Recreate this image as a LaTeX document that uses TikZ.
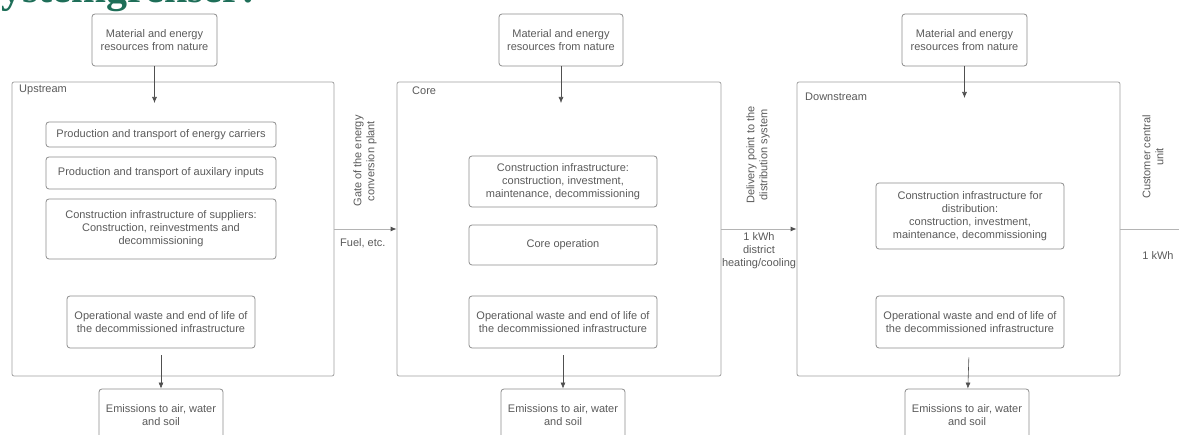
\documentclass[tikz,border=0pt]{standalone}
\usepackage{fontspec}
\setmainfont{Liberation Sans}
\newfontfamily\titlefont{Liberation Serif}
\usetikzlibrary{arrows.meta}
\definecolor{txtgray}{HTML}{5A5A5A}
\definecolor{boxgray}{HTML}{8C8C8C}
\definecolor{framegray}{HTML}{A0A0A0}
\definecolor{arrowgray}{HTML}{505050}
\definecolor{linegray}{HTML}{B4B4B4}
\definecolor{titlegreen}{HTML}{1E6E58}

\begin{document}
\begin{tikzpicture}[x=1pt, y=-1pt,
        frame/.style={rectangle, draw=framegray, line width=0.8pt, rounded corners=2pt, inner sep=0pt, minimum height=294pt},
        box/.style={rectangle, draw=boxgray, line width=0.8pt, rounded corners=3pt, align=center, text=txtgray, inner sep=0pt, font=\fontsize{11}{13}\selectfont},
        framelabel/.style={anchor=west, text=txtgray, inner sep=0pt, font=\fontsize{11}{13}\selectfont},
        gatelabel/.style={rotate=90, align=center, text=txtgray, inner sep=0pt, font=\fontsize{11}{13}\selectfont},
        flowlabel/.style={align=center, text=txtgray, inner sep=0pt, font=\fontsize{11}{13}\selectfont},
        flow/.style={draw=arrowgray, line width=0.6pt, -{Latex[length=6pt,width=5pt]}},
        gateline/.style={draw=linegray, line width=0.8pt, -{Latex[length=6pt,width=5pt,color=arrowgray]}}
    ]
        \useasboundingbox (0,0) rectangle (1179,435);

        % Title, cut by the page edge
        \node[anchor=base west, inner sep=0pt, text=titlegreen, font=\titlefont\bfseries\fontsize{42}{42}\selectfont] (title) at (-22,3) {Systemgrenser:};

        % Frames
        \node[frame, minimum width=322pt] (up) at (173,229) {};
        \node[frame, minimum width=324pt] (core) at (559,229) {};
        \node[frame, minimum width=323pt] (down) at (958.5,229) {};
        \node[framelabel] (uplabel) at (19,90) {Upstream};
        \node[framelabel] (corelabel) at (412,91) {Core};
        \node[framelabel] (downlabel) at (805,97) {Downstream};

        % Upstream
        \node[box, minimum width=125pt, minimum height=52pt] (res1) at (154.5,40) {Material and energy\\resources from nature};
        \node[box, minimum width=230pt, minimum height=25pt] (prod1) at (161,134.5) {Production and transport of energy carriers};
        \node[box, minimum width=230pt, minimum height=32pt] (prod2) at (161,173) {Production and transport of auxilary inputs};
        \node[box, minimum width=230pt, minimum height=60pt] (constr1) at (161,229) {Construction infrastructure of suppliers:\\Construction, reinvestments and\\decommissioning};
        \node[box, minimum width=188pt, minimum height=52pt] (waste1) at (161,322) {Operational waste and end of life of\\the decommissioned infrastructure};
        \node[box, minimum width=124pt, minimum height=52pt] (emis1) at (161,415) {Emissions to air, water\\and soil};
        \coordinate (in1) at (154.5,103);

        % Core
        \node[box, minimum width=124pt, minimum height=52pt] (res2) at (561,40) {Material and energy\\resources from nature};
        \node[box, minimum width=188pt, minimum height=51pt] (constr2) at (563,181.5) {Construction infrastructure:\\construction, investment,\\maintenance, decommissioning};
        \node[box, minimum width=188pt, minimum height=40pt] (coreop) at (563,245) {Core operation};
        \node[box, minimum width=188pt, minimum height=52pt] (waste2) at (563,322) {Operational waste and end of life of\\the decommissioned infrastructure};
        \node[box, minimum width=124pt, minimum height=52pt] (emis2) at (563,415) {Emissions to air, water\\and soil};
        \coordinate (in2) at (561,103);

        % Downstream
        \node[box, minimum width=125pt, minimum height=52pt] (res3) at (964.5,40) {Material and energy\\resources from nature};
        \node[box, minimum width=188pt, minimum height=66pt] (constr3) at (970,216) {Construction infrastructure for\\distribution:\\construction, investment,\\maintenance, decommissioning};
        \node[box, minimum width=188pt, minimum height=52pt] (waste3) at (970,322) {Operational waste and end of life of\\the decommissioned infrastructure};
        \node[box, minimum width=124pt, minimum height=52pt] (emis3) at (967,415) {Emissions to air, water\\and soil};
        \coordinate (in3) at (964.5,98);

        % Inputs from nature and emissions
        \draw[flow] (res1) -- (in1);
        \draw[flow] (res2) -- (in2);
        \draw[flow] (res3) -- (in3);
        \draw[flow, shorten <=7pt] (waste1) -- (emis1);
        \draw[flow, shorten <=7pt] (waste2) -- (emis2);
        \draw[flow, shorten <=9pt] (waste3) -- (emis3);

        % Gates between the stages
        \draw[gateline] (up) -- (core);
        \draw[gateline] (core) -- (down);
        \coordinate (out) at (1185,229);
        \draw[draw=linegray, line width=0.8pt] (down) -- (out);

        \node[gatelabel] (gate1) at (365,161) {Gate of the energy\\conversion plant};
        \node[flowlabel, anchor=west] (fuel) at (340,243) {Fuel, etc.};
        \node[gatelabel] (gate2) at (758,155) {Delivery point to the\\distribution system};
        \node[flowlabel, anchor=north] (kwh1) at (759,232) {1 kWh\\district\\heating/cooling};
        \node[gatelabel] (gate3) at (1153,157) {Customer central\\unit};
        \node[flowlabel] (kwh2) at (1158,256) {1 kWh};

    \end{tikzpicture}
\end{document}
